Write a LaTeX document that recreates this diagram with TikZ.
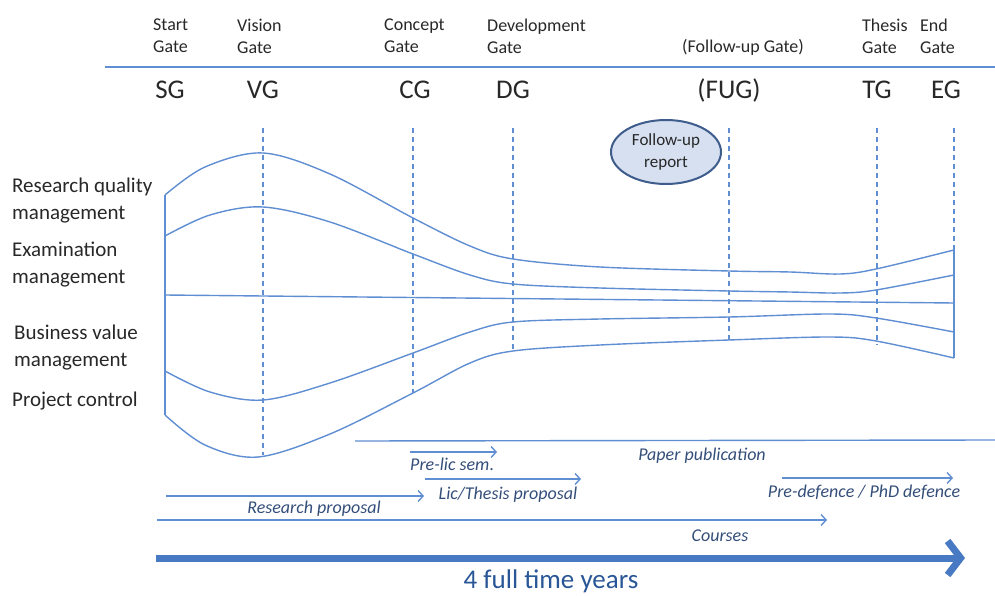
\documentclass[tikz,border=0pt]{standalone}
\usepackage{fontspec}
\setmainfont{Carlito}
\usetikzlibrary{arrows.meta,shapes.geometric}
\definecolor{ln}{RGB}{96,142,210}
\definecolor{txt}{RGB}{40,40,40}
\definecolor{itx}{RGB}{52,78,122}
\definecolor{big}{RGB}{72,122,196}
\definecolor{bigt}{RGB}{40,86,150}
\definecolor{ellf}{RGB}{214,224,240}
\definecolor{elld}{RGB}{62,92,140}
\begin{document}
\begin{tikzpicture}[x=1pt,y=-1pt,
  gatetop/.style={anchor=west, align=left, font=\fontsize{18}{22}\selectfont, text=txt, inner sep=0pt},
  gateab/.style={font=\fontsize{27}{30}\selectfont, text=txt, inner sep=0pt},
  lbl/.style={anchor=west, align=left, font=\fontsize{21}{27}\selectfont, text=txt, inner sep=0pt},
  curve/.style={ln, line width=1.4pt},
  gline/.style={ln, line width=1.2pt, dash pattern=on 5pt off 4pt},
  tarrow/.style={ln, line width=1.4pt, -{Straight Barb[length=5pt,width=11pt]}},
  ital/.style={font=\fontsize{18}{22}\selectfont\itshape, text=itx, inner sep=0pt}]
\useasboundingbox (0,0) rectangle (995,596);

% top gate names
\node[gatetop] (tsg) at (153,36) {Start\\Gate};
\node[gatetop] (tvg) at (237,36) {Vision\\Gate};
\node[gatetop] (tcg) at (384,36) {Concept\\Gate};
\node[gatetop] (tdg) at (487,36) {Development\\Gate};
\node[gatetop] (tfug) at (682,47) {(Follow-up Gate)};
\node[gatetop] (ttg) at (862,36) {Thesis\\Gate};
\node[gatetop] (teg) at (920,36) {End\\Gate};

\coordinate (hl) at (105,67);
\coordinate (hr) at (995,67);
\draw[ln, line width=2pt] (hl) -- (hr);

% abbreviations
\node[gateab] (sg) at (170,90) {SG};
\node[gateab] (vg) at (263,90) {VG};
\node[gateab] (cg) at (415,90) {CG};
\node[gateab] (dg) at (513,90) {DG};
\node[gateab] (fug) at (729,90) {(FUG)};
\node[gateab] (tg) at (877,90) {TG};
\node[gateab] (eg) at (946,90) {EG};

% dashed gate lines
\coordinate (v1) at (263,128); \coordinate (v1b) at (263,455);
\coordinate (c1) at (413,128); \coordinate (c1b) at (413,393);
\coordinate (d1) at (513,128); \coordinate (d1b) at (513,352);
\coordinate (f1) at (729,128); \coordinate (f1b) at (729,340);
\coordinate (t1) at (877,128); \coordinate (t1b) at (877,345);
\coordinate (e1) at (954,128); \coordinate (e1b) at (954,250);
\draw[gline] (v1) -- (v1b);
\draw[gline] (c1) -- (c1b);
\draw[gline] (d1) -- (d1b);
\draw[gline] (f1) -- (f1b);
\draw[gline] (t1) -- (t1b);
\draw[gline] (e1) -- (e1b);

% left labels
\node[lbl] (rq) at (12,201) {Research quality\\management};
\node[lbl] (ex) at (12,265) {Examination\\management};
\node[lbl] (bv) at (14,348) {Business value\\management};
\node[lbl] (pc) at (12,401) {Project control};

% side lines
\coordinate (l1) at (165,195); \coordinate (l2) at (165,415);
\coordinate (r1) at (954,250); \coordinate (r2) at (954,358);
\draw[curve] (l1) -- (l2);
\draw[curve] (r1) -- (r2);

% curves
\draw[curve] plot[smooth, tension=0.55] coordinates {(165,195) (205,167) (263,153) (330,174) (413,218) (470,246) (513,259) (600,267) (729,271) (790,272) (840,274) (876,269) (954,250)};
\draw[curve] plot[smooth, tension=0.55] coordinates {(165,236) (210,215) (263,207) (330,222) (413,254) (470,275) (513,284) (600,288) (729,291) (790,292) (840,293) (876,290) (954,275)};
\coordinate (m1) at (165,295); \coordinate (m2) at (954,303);
\draw[curve] (m1) -- (m2);
\draw[curve] plot[smooth, tension=0.55] coordinates {(165,371) (210,392) (263,400) (330,383) (413,353) (470,332) (513,322) (600,319) (729,317) (830,314) (876,318) (954,332)};
\draw[curve] plot[smooth, tension=0.55] coordinates {(165,415) (205,445) (258,457) (330,434) (413,393) (470,363) (513,351) (600,345) (729,340) (830,337) (876,341) (954,358)};

% follow-up report
\node[ellipse, draw=elld, fill=ellf, line width=2pt, minimum width=110pt, minimum height=64pt, align=center, font=\fontsize{17}{22}\selectfont, text=txt, inner sep=0pt] (fur) at (666,152) {Follow-up\\report};

% bottom activities
\coordinate (pp1) at (355,441); \coordinate (pp2) at (995,440);
\draw[curve] (pp1) -- (pp2);
\node[ital] (ppl) at (702,456) {Paper publication};

\coordinate (pl1) at (410,452); \coordinate (pl2) at (497,452);
\draw[tarrow] (pl1) -- (pl2);
\node[ital, anchor=west] (pll) at (410,464) {Pre-lic sem\upshape{}.};

\coordinate (lt1) at (425,479); \coordinate (lt2) at (581,479);
\draw[tarrow] (lt1) -- (lt2);
\node[ital] (ltl) at (508,495) {Lic/Thesis proposal};

\coordinate (rp1) at (166,496); \coordinate (rp2) at (424,496);
\draw[tarrow] (rp1) -- (rp2);
\node[ital] (rpl) at (314,509) {Research proposal};

\coordinate (co1) at (157,520); \coordinate (co2) at (827,520);
\draw[tarrow] (co1) -- (co2);
\node[ital] (col) at (720,536) {Courses};

\coordinate (pd1) at (782,478); \coordinate (pd2) at (953,478);
\draw[tarrow] (pd1) -- (pd2);
\node[ital] (pdl) at (864,492) {Pre-defence / PhD defence};

% time arrow
\coordinate (ta1) at (156,558); \coordinate (ta2) at (965,558);
\draw[big, line width=7pt, -{Straight Barb[length=13pt,width=34pt]}] (ta1) -- (ta2);
\node[font=\fontsize{27}{30}\selectfont, text=bigt, inner sep=0pt] (yrs) at (551,581) {4 full time years};
\end{tikzpicture}
\end{document}
